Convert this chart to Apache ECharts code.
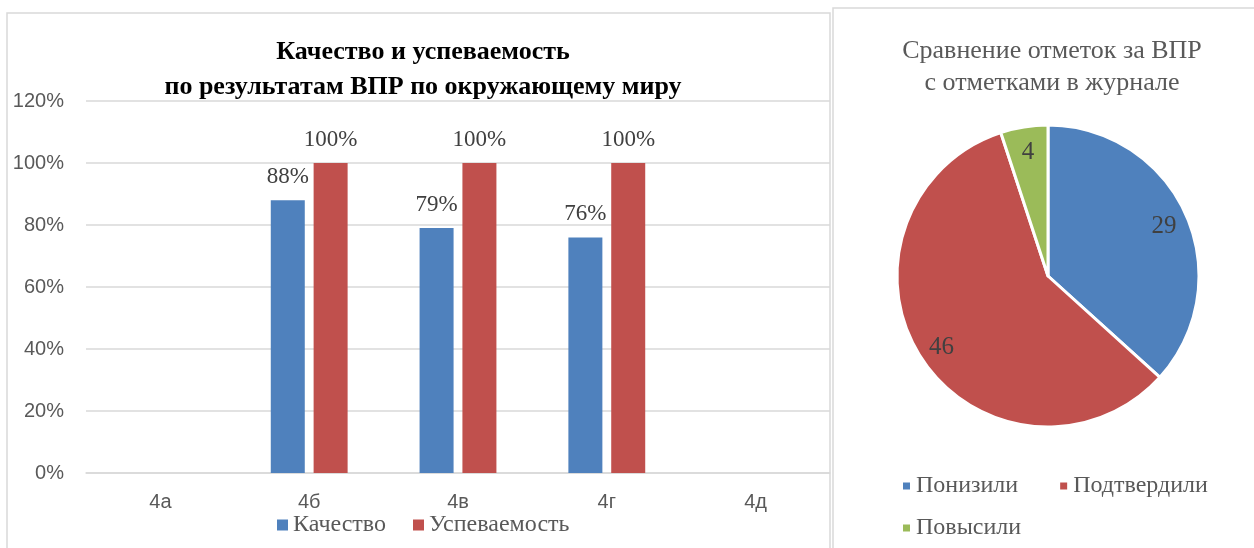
<!DOCTYPE html>
<html><head><meta charset="utf-8">
<script src="https://cdn.jsdelivr.net/npm/echarts@6/dist/echarts.min.js"></script>
<style>html,body{margin:0;padding:0;background:#fff}#c{width:1254px;height:548px}</style>
</head><body><div id="c"></div>
<script>
const categories = ['4а', '4б', '4в', '4г', '4д'];
const quality = [null, 0.88, 0.79, 0.76, null];
const success = [null, 1.00, 1.00, 1.00, null];
const pieNames = ['Понизили', 'Подтвердили', 'Повысили'];
const pieValues = [29, 46, 4];
const yTicks = [0, 0.2, 0.4, 0.6, 0.8, 1.0, 1.2];

const serif = '"Liberation Serif", "Times New Roman", serif';
const sans = '"Liberation Sans", Arial, sans-serif';
const colors = ['#4F81BD', '#C0504D', '#9BBB59'];
const pieData = pieNames.map((n, i) => ({ name: n, value: pieValues[i], itemStyle: { color: colors[i] } }));
const pct = p => p.value == null ? '' : Math.round(p.value * 100) + '%';

const chart = echarts.init(document.getElementById('c'));
chart.setOption({
  animation: false,
  graphic: [
    { type: 'rect', shape: { x: 7, y: 13, width: 823, height: 560 }, style: { fill: 'none', stroke: '#d9d9d9', lineWidth: 1.5 } },
    { type: 'rect', shape: { x: 833, y: 8, width: 440, height: 560 }, style: { fill: 'none', stroke: '#d9d9d9', lineWidth: 1.5 } }
  ],
  title: [
    { text: 'Качество и успеваемость\nпо результатам ВПР по окружающему миру', left: 418, top: 30, textAlign: 'center',
      textStyle: { fontFamily: serif, fontWeight: 'bold', fontSize: 26, lineHeight: 35, color: '#000' } },
    { text: 'Сравнение отметок за ВПР\nс отметками в журнале', left: 1047, top: 30, textAlign: 'center',
      textStyle: { fontFamily: serif, fontWeight: 'normal', fontSize: 26, lineHeight: 32, color: '#595959' } }
  ],
  legend: [
    { data: ['Качество', 'Успеваемость'], left: 272, top: 508, itemWidth: 11, itemHeight: 11, itemGap: 27, icon: 'rect',
      textStyle: { fontFamily: serif, fontSize: 24, color: '#595959' } },
    { data: ['Понизили', 'Подтвердили'], left: 896, top: 469, itemWidth: 9, itemHeight: 9, itemGap: 40, icon: 'rect',
      textStyle: { fontFamily: serif, fontSize: 24, color: '#595959' } },
    { data: ['Повысили'], left: 896, top: 511, itemWidth: 9, itemHeight: 9, icon: 'rect',
      textStyle: { fontFamily: serif, fontSize: 24, color: '#595959' } }
  ],
  grid: { left: 86, right: 424, top: 101, bottom: 75 },
  xAxis: {
    type: 'category', data: categories,
    axisLine: { lineStyle: { color: '#d9d9d9', width: 1.5 } },
    axisTick: { show: false },
    axisLabel: { fontFamily: sans, fontSize: 20, color: '#595959', margin: 19 }
  },
  yAxis: {
    type: 'value', min: 0, max: 1.2, interval: 0.2,
    axisLine: { show: false }, axisTick: { show: false },
    splitLine: { lineStyle: { color: '#d9d9d9', width: 1.5 } },
    axisLabel: { fontFamily: sans, fontSize: 20, color: '#595959', margin: 22,
      formatter: v => Math.round(v * 100) + '%' }
  },
  series: [
    { name: 'Качество', type: 'bar', data: quality, barWidth: 34, barGap: '26%',
      itemStyle: { color: colors[0] },
      label: { show: true, position: 'top', distance: 12, fontFamily: serif, fontSize: 23, color: '#404040', formatter: pct } },
    { name: 'Успеваемость', type: 'bar', data: success, barWidth: 34,
      itemStyle: { color: colors[1] },
      label: { show: true, position: 'top', distance: 12, fontFamily: serif, fontSize: 23, color: '#404040', formatter: pct } },
    { name: 'pie', type: 'pie', center: [1048, 276], radius: [0, 151], startAngle: 90, clockwise: true,
      data: pieData, label: { show: false }, labelLine: { show: false },
      itemStyle: { borderColor: '#fff', borderWidth: 3 }, emphasis: { disabled: true } },
    { name: 'pieLabels', type: 'pie', center: [1048, 278], radius: [97, 151], startAngle: 90, clockwise: true,
      data: pieNames.map((n, i) => ({ name: n, value: pieValues[i] })), silent: true,
      itemStyle: { color: 'transparent', borderWidth: 0 }, emphasis: { disabled: true },
      label: { show: true, position: 'inside', formatter: '{c}', fontFamily: serif, fontSize: 25, color: '#404040' },
      labelLine: { show: false } }
  ]
});
</script></body></html>
